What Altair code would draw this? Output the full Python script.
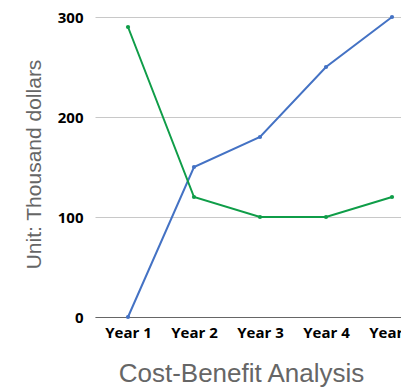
import altair as alt
import pandas as pd

years = ["Year 1", "Year 2", "Year 3", "Year 4", "Year 5"]
benefit = [0, 150, 180, 250, 300]
cost = [290, 120, 100, 100, 120]
series_names = ["Benefit", "Cost"]
series_colors = ["#4472c4", "#0f9d48"]

rows = []
for y, v in zip(years, benefit):
    rows.append({"year": y, "value": v, "series": series_names[0]})
for y, v in zip(years, cost):
    rows.append({"year": y, "value": v, "series": series_names[1]})
df = pd.DataFrame(rows)

x = alt.X("year:N", sort=years, scale=alt.Scale(type="point", padding=0.5, range=[0, 330]),
          axis=alt.Axis(title="Cost-Benefit Analysis", labelAngle=0, labelFont="Open Sans",
                        labelFontWeight="bold", labelFontSize=15, labelColor="#000",
                        labelPadding=8, ticks=False, domainColor="#666", domainWidth=1,
                        titleFont="Liberation Sans", titleFontSize=26, titleFontWeight="normal",
                        titleColor="#666", titleX=146, titleY=64, titleBaseline="alphabetic",
                        titleAnchor="start", titleAlign="center", labelOverlap=False,
                        labelBound=False))
y = alt.Y("value:Q", scale=alt.Scale(domain=[0, 300]),
          axis=alt.Axis(title="Unit: Thousand dollars", values=[0, 100, 200, 300],
                        labelFont="Open Sans", labelFontWeight="bold", labelFontSize=15,
                        labelColor="#000", labelPadding=12, ticks=False, domain=False,
                        gridColor="#c8c8c8", gridWidth=1,
                        titleFont="Liberation Sans", titleFontSize=21, titleFontWeight="normal",
                        titleColor="#666", titleX=-61, titleY=147, titleAngle=-90,
                        titleBaseline="middle", titleAlign="center", titleAnchor="start"))
color = alt.Color("series:N", scale=alt.Scale(domain=series_names, range=series_colors), legend=None)

lines = alt.Chart(df).mark_line(strokeWidth=2, clip=False).encode(x=x, y=y, color=color)
points = alt.Chart(df).mark_point(filled=True, size=18, opacity=1).encode(x=x, y=y, color=color)

chart = alt.layer(lines, points).properties(
    width=306, height=300,
    autosize=alt.AutoSizeParams(type="none"),
    padding={"left": 95, "top": 17, "right": 0, "bottom": 70},
).configure_view(stroke=None).configure_axis(gridColor="#c8c8c8")

chart.save("out.html", embed_options={"renderer": "svg", "actions": False})
